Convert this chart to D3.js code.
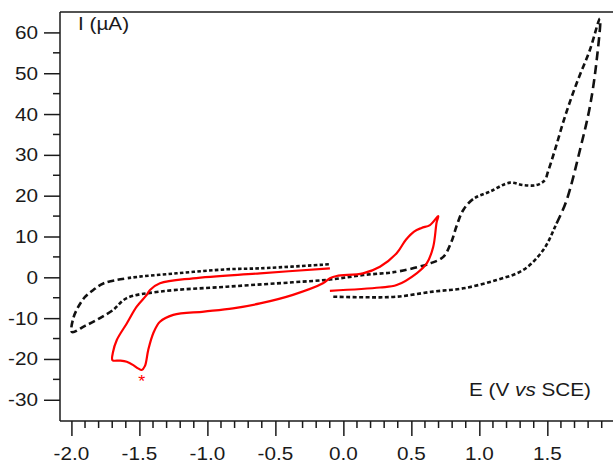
<!DOCTYPE html>
<html>
<head>
<meta charset="utf-8">
<script src="https://cdn.jsdelivr.net/npm/d3@7"></script>
<style>
  html, body { margin: 0; padding: 0; background: #fff; }
  svg { display: block; }
  text { font-family: "Liberation Sans", Arial, sans-serif; fill: #1a1a1a; }
</style>
</head>
<body>
<svg id="chart" width="614" height="463"></svg>
<script>
// ---------------- data ----------------
const xTickValues = [-2.0, -1.5, -1.0, -0.5, 0.0, 0.5, 1.0, 1.5];
const xTickLabels = ["-2.0", "-1.5", "-1.0", "-0.5", "0.0", "0.5", "1.0", "1.5"];
const yTickValues = [-30, -20, -10, 0, 10, 20, 30, 40, 50, 60];
const yTickLabels = ["-30", "-20", "-10", "0", "10", "20", "30", "40", "50", "60"];

// Black dashed CV (E in V vs SCE, I in µA)
const blackE = [-0.074, 0.171, 0.392, 0.659, 0.882, 1.127, 1.323, 1.47, 1.568, 1.642, 1.74, 1.813, 1.863, 1.887,
                1.813, 1.715, 1.629, 1.556, 1.504, 1.482, 1.421, 1.323, 1.225, 1.078, 0.955, 0.882, 0.835, 0.791, 0.735, 0.637, 0.392, 0.146, -0.099,
                -0.371, -0.858, -1.349, -1.593, -1.694, -1.79, -1.9, -1.996,
                -1.986, -1.949, -1.9, -1.839, -1.765, -1.593, -1.226, -0.858, -0.613, -0.099];
const blackI = [-4.75, -4.9, -4.75, -3.5, -2.7, -0.66, 1.8, 6.7, 13.2, 18.9, 31.2, 41.8, 53.2, 63.4,
                55.7, 47.5, 39.3, 31.2, 25.8, 23.8, 22.6, 22.6, 23.2, 21.0, 19.2, 16.5, 12.8, 8.4, 5.0, 3.4, 1.37, 0.56, -0.54,
                -1.22, -2.3, -3.5, -5.1, -8.0, -10.0, -11.9, -13.4,
                -10.0, -7.2, -4.8, -3.1, -1.5, -0.24, 0.98, 1.96, 2.2, 3.2];

// Red solid CV
const redE = [-0.099, -0.613, -1.106, -1.349, -1.422, -1.446, -1.52, -1.593, -1.667, -1.694, -1.698,
              -1.643, -1.593, -1.545, -1.51, -1.483, -1.459, -1.435, -1.398, -1.349, -1.251, -1.025, -0.812, -0.613, -0.371, -0.15, -0.099,
              -0.049, 0.144, 0.269, 0.392, 0.46, 0.52, 0.575, 0.637, 0.698,
              0.686, 0.661, 0.613, 0.539, 0.392, 0.269, -0.099];
const redI = [2.2, 0.98, -0.24, -1.47, -3.1, -4.3, -7.2, -11.3, -15.4, -18.3, -20.3,
              -20.4, -20.7, -21.5, -22.3, -22.7, -21.7, -17.8, -13.7, -10.9, -9.2, -8.4, -7.6, -6.4, -4.3, -1.47, -0.24,
              0.32, 0.98, 2.6, 5.9, 9.2, 11.2, 12.1, 12.8, 15.0,
              13.5, 7.5, 3.4, 0.98, -1.9, -2.5, -3.3];

const peakMark = { E: -1.483, I: -22.7, label: "*" };
const yTitle = "I (\u00B5A)";

// ---------------- layout ----------------
const svg = d3.select("#chart");
const mLeft = 60, mRight = 613, mTop = 12, mBottom = 421;
const TX = 1.12; // horizontal text stretch seen in the reference

const x = d3.scaleLinear().domain([-2.084, 1.983]).range([mLeft, mRight]);
const y = d3.scaleLinear().domain([-35.2, 65]).range([mBottom, mTop]);

// frame: top line
svg.append("line").attr("x1", mLeft).attr("x2", mRight).attr("y1", mTop).attr("y2", mTop)
  .attr("stroke", "#1a1a1a").attr("stroke-width", 1.5);

// Y axis
const yAxis = d3.axisLeft(y).tickValues(yTickValues).tickSize(16).tickPadding(0).tickFormat(() => "");
const gy = svg.append("g").attr("transform", `translate(${mLeft},0)`).call(yAxis);
gy.select(".domain").attr("d", `M0,${mTop}V${mBottom}`).attr("stroke", "#1a1a1a").attr("stroke-width", 1.5);
gy.selectAll(".tick line").attr("stroke", "#1a1a1a").attr("stroke-width", 1.5);
const yMinor = d3.range(-25, 65, 10);
gy.selectAll(".minor").data(yMinor).enter().append("line")
  .attr("x1", -7).attr("x2", 0).attr("y1", d => y(d)).attr("y2", d => y(d))
  .attr("stroke", "#1a1a1a").attr("stroke-width", 1.5);
gy.selectAll(".ylab").data(yTickValues).enter().append("g")
  .attr("transform", (d) => `translate(-22,${y(d) + 6.5}) scale(${TX},1)`)
  .append("text").attr("text-anchor", "end").attr("font-size", 18.5)
  .text((d, i) => yTickLabels[i]);

// X axis
const xAxis = d3.axisBottom(x).tickValues(xTickValues).tickSize(15).tickFormat(() => "");
const gx = svg.append("g").attr("transform", `translate(0,${mBottom})`).call(xAxis);
gx.select(".domain").attr("d", `M${mLeft},0H${mRight}`).attr("stroke", "#1a1a1a").attr("stroke-width", 1.5);
gx.selectAll(".tick line").attr("stroke", "#1a1a1a").attr("stroke-width", 1.5);
const xMinor = d3.range(-20, 20, 1).map(v => v / 10).filter(v => Math.abs(v * 2 - Math.round(v * 2)) > 1e-6 && x(v) > mLeft);
gx.selectAll(".minor").data(xMinor).enter().append("line")
  .attr("x1", d => x(d)).attr("x2", d => x(d)).attr("y1", 0).attr("y2", 7)
  .attr("stroke", "#1a1a1a").attr("stroke-width", 1.5);
gx.selectAll(".xlab").data(xTickValues).enter().append("g")
  .attr("transform", d => `translate(${x(d)},39) scale(${TX},1)`)
  .append("text").attr("text-anchor", "middle").attr("font-size", 18.5)
  .text((d, i) => xTickLabels[i]);

// curves
const line = d3.line().x(d => x(d[0])).y(d => y(d[1])).curve(d3.curveCatmullRom.alpha(0.5));

const blackPts = blackE.map((e, i) => [e, blackI[i]]);
const blackPath = svg.append("path")
  .datum(blackPts)
  .attr("d", line).attr("fill", "none").attr("stroke", "#111")
  .attr("stroke-width", 2.6);

// dash style varies along the trace (longer dashes on steep parts, as in the reference)
// [start vertex index, dash, gap]
const dashStyle = [[0, 4, 2.5], [8, 9, 5], [13, 6, 3.5], [19, 3.5, 2.3], [24, 7, 4], [30, 4, 2.5], [37, 6.5, 3.5], [46, 3.5, 2.3]];
(function applyDashes() {
  const node = blackPath.node();
  const total = node.getTotalLength();
  const step = 0.5;
  const samples = [];
  for (let L = 0; L <= total; L += step) { const p = node.getPointAtLength(L); samples.push([L, p.x, p.y]); }
  const bounds = [0];
  let si = 0;
  for (let k = 1; k < dashStyle.length; k++) {
    const v = blackPts[dashStyle[k][0]];
    const vx = x(v[0]), vy = y(v[1]);
    let best = Infinity, bestL = 0, bestIdx = si, found = false;
    for (let j = si; j < samples.length; j++) {
      const d = Math.hypot(samples[j][1] - vx, samples[j][2] - vy);
      if (d < best) { best = d; bestL = samples[j][0]; bestIdx = j; }
      if (d < 1.5) found = true;
      if (found && d > 6) break;
    }
    bounds.push(bestL); si = bestIdx;
  }
  bounds.push(total);
  const arr = [];
  for (let k = 0; k < dashStyle.length; k++) {
    const len = bounds[k + 1] - bounds[k];
    const d = dashStyle[k][1], g = dashStyle[k][2];
    const n = Math.max(1, Math.round(len / (d + g)));
    const s = len / (n * (d + g));
    for (let i = 0; i < n; i++) arr.push((d * s).toFixed(2), (g * s).toFixed(2));
  }
  blackPath.attr("stroke-dasharray", arr.join(","));
})();

svg.append("path")
  .datum(redE.map((e, i) => [e, redI[i]]))
  .attr("d", line).attr("fill", "none").attr("stroke", "#ff0000")
  .attr("stroke-width", 2.2).attr("stroke-linejoin", "round");

// asterisk
svg.append("g").attr("transform", `translate(${x(peakMark.E)},${y(peakMark.I) + 17}) scale(${TX},1)`)
  .append("text").attr("text-anchor", "middle").attr("font-size", 16).style("fill", "#ff0000")
  .text(peakMark.label);

// axis titles
svg.append("g").attr("transform", `translate(78,30) scale(${TX},1)`)
  .append("text").attr("font-size", 18.5).text(yTitle);

const xt = svg.append("g").attr("transform", `translate(591,396) scale(${TX},1)`)
  .append("text").attr("text-anchor", "end").attr("font-size", 18.5);
xt.append("tspan").text("E (V ");
xt.append("tspan").attr("font-style", "italic").text("vs");
xt.append("tspan").text(" SCE)");
</script>
</body>
</html>
